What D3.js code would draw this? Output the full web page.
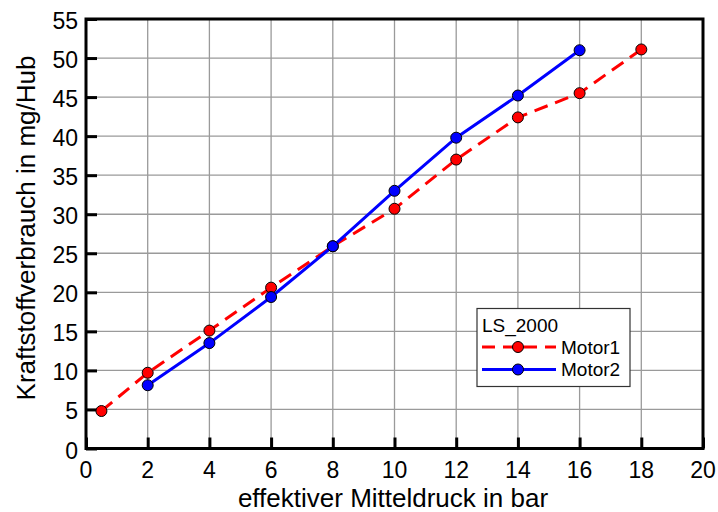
<!DOCTYPE html>
<html>
<head>
<meta charset="utf-8">
<script src="https://cdn.jsdelivr.net/npm/d3@7"></script>
<style>
  body { margin: 0; background: #fff; }
  text { font-family: "Liberation Sans", Arial, sans-serif; }
</style>
</head>
<body>
<div id="canvas"></div>
<script>
// data
const motor1X = [0.5, 2, 4, 6, 8, 10, 12, 14, 16, 18];
const motor1Y = [4.8, 9.7, 15.1, 20.6, 25.9, 30.7, 37.0, 42.4, 45.5, 51.1];
const motor2X = [2, 4, 6, 8, 10, 12, 14, 16];
const motor2Y = [8.1, 13.5, 19.4, 25.9, 33.0, 39.8, 45.2, 51.0];
const xTicks = [0, 2, 4, 6, 8, 10, 12, 14, 16, 18, 20];
const yTicks = [0, 5, 10, 15, 20, 25, 30, 35, 40, 45, 50, 55];
const legendTitle = "LS_2000";
const seriesNames = ["Motor1", "Motor2"];

// constants
const width = 718;
const height = 512;
const plotLeft = 86, plotRight = 703, plotTop = 19, plotBottom = 448.5;

const x = d3.scaleLinear().domain([0, 20]).range([plotLeft, plotRight]);
const y = d3.scaleLinear().domain([0, 55]).range([plotBottom, plotTop]);

const svg = d3.select('#canvas')
    .append('svg').attr('width', width).attr('height', height);

// grid
svg.append('g').selectAll('line').data(xTicks.slice(1, -1)).join('line')
    .attr('x1', d => x(d)).attr('x2', d => x(d))
    .attr('y1', plotTop).attr('y2', plotBottom)
    .attr('stroke', '#9a9a9a').attr('stroke-width', 1.3);
svg.append('g').selectAll('line').data(yTicks.slice(1, -1)).join('line')
    .attr('y1', d => y(d)).attr('y2', d => y(d))
    .attr('x1', plotLeft).attr('x2', plotRight)
    .attr('stroke', '#9a9a9a').attr('stroke-width', 1.3);

// axes (ticks pointing inward)
const xAxis = d3.axisTop(x).tickValues(xTicks).tickSize(11).tickFormat('');
const yAxis = d3.axisRight(y).tickValues(yTicks).tickSize(11).tickFormat('');
const gx = svg.append('g').attr('transform', `translate(0,${plotBottom})`).call(xAxis);
const gy = svg.append('g').attr('transform', `translate(${plotLeft},0)`).call(yAxis);
[gx, gy].forEach(g => {
  g.select('.domain').remove();
  g.selectAll('line').attr('stroke', '#000').attr('stroke-width', 3);
});

// tick labels
svg.append('g').selectAll('text').data(xTicks).join('text')
    .attr('x', d => x(d)).attr('y', 478)
    .attr('text-anchor', 'middle').attr('font-size', 23)
    .text(d => d);
svg.append('g').selectAll('text').data(yTicks).join('text')
    .attr('x', 78).attr('y', d => y(d) + 10)
    .attr('text-anchor', 'end').attr('font-size', 23)
    .text(d => d);

// frame
svg.append('rect')
    .attr('x', plotLeft).attr('y', plotTop)
    .attr('width', plotRight - plotLeft).attr('height', plotBottom - plotTop)
    .attr('fill', 'none').attr('stroke', '#000').attr('stroke-width', 3);

// axis titles
svg.append('text')
    .attr('x', 393).attr('y', 507)
    .attr('text-anchor', 'middle').attr('font-size', 26)
    .text('effektiver Mitteldruck in bar');
svg.append('text')
    .attr('transform', `translate(35,228) rotate(-90)`)
    .attr('text-anchor', 'middle').attr('font-size', 26)
    .text('Kraftstoffverbrauch in mg/Hub');

// series
const line = d3.line().x(d => x(d[0])).y(d => y(d[1]));
const series = [
  { pts: motor1X.map((v, i) => [v, motor1Y[i]]), color: '#ff0000', dash: '14,8' },
  { pts: motor2X.map((v, i) => [v, motor2Y[i]]), color: '#0000ff', dash: null }
];
series.forEach(s => {
  svg.append('path').datum(s.pts)
      .attr('d', line).attr('fill', 'none')
      .attr('stroke', s.color).attr('stroke-width', 3)
      .attr('stroke-dasharray', s.dash);
  svg.append('g').selectAll('circle').data(s.pts).join('circle')
      .attr('cx', d => x(d[0])).attr('cy', d => y(d[1])).attr('r', 5.5)
      .attr('fill', s.color).attr('stroke', '#000').attr('stroke-width', 1);
});

// legend
const lg = svg.append('g');
lg.append('rect')
    .attr('x', 477).attr('y', 308.5).attr('width', 153).attr('height', 78)
    .attr('fill', '#fff').attr('stroke', '#333').attr('stroke-width', 1.2);
lg.append('text').attr('x', 482).attr('y', 331.5).attr('font-size', 19).text(legendTitle);
series.forEach((s, i) => {
  const ly = 347 + i * 22.5;
  lg.append('line')
      .attr('x1', 482).attr('x2', 556).attr('y1', ly).attr('y2', ly)
      .attr('stroke', s.color).attr('stroke-width', 3)
      .attr('stroke-dasharray', s.dash ? '13,8' : null);
  lg.append('circle').attr('cx', 518).attr('cy', ly).attr('r', 5.5)
      .attr('fill', s.color).attr('stroke', '#000').attr('stroke-width', 1);
  lg.append('text').attr('x', 561).attr('y', ly + 6.5).attr('font-size', 19).text(seriesNames[i]);
});
</script>
</body>
</html>
